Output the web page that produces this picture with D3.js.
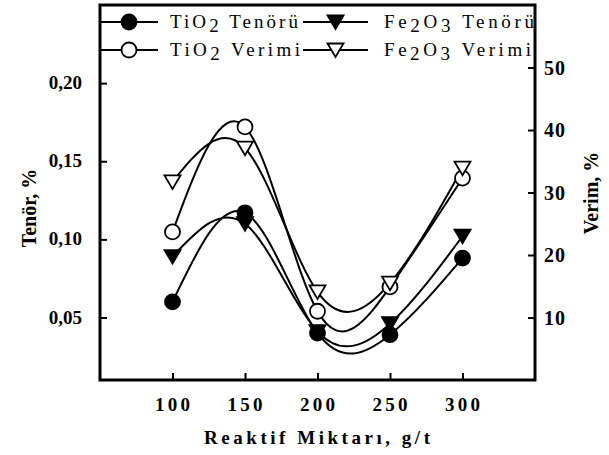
<!DOCTYPE html>
<html>
<head>
<meta charset="utf-8">
<script src="https://cdn.jsdelivr.net/npm/d3@7"></script>
<style>
  html, body { margin: 0; padding: 0; background: #fff; }
  svg { display: block; }
  text { font-family: "Liberation Serif", "Times New Roman", serif; fill: #000; }
</style>
</head>
<body>
<svg id="chart" width="609" height="455"></svg>
<script>
// Reagent dosage (g/t)
const dosages = [100, 150, 200, 250, 300];
// Grade (%), left axis
const tio2Grade = [0.060, 0.117, 0.040, 0.039, 0.088];
const fe2o3Grade = [0.089, 0.110, 0.041, 0.046, 0.102];
// Recovery (%), right axis
const tio2Recovery = [23.7, 40.5, 11.0, 14.9, 32.3];
const fe2o3Recovery = [31.7, 37.1, 14.1, 15.5, 33.9];

const xTicks = [100, 150, 200, 250, 300];
const gradeTicks = [0.05, 0.10, 0.15, 0.20];
const recoveryTicks = [10, 20, 30, 40, 50];

const svg = d3.select("#chart");
const m = { left: 100, right: 535, top: 5, bottom: 380 };

const x = d3.scaleLinear().domain([50, 350]).range([m.left, m.right]);
const yL = d3.scaleLinear().domain([0.01, 0.25]).range([m.bottom, m.top]);
const yR = d3.scaleLinear().domain([0, 60]).range([m.bottom, m.top]);

const series = [
  { label: ["TiO", "2", " Tenörü"], values: tio2Grade, scale: yL, shape: "circle", fill: "#000" },
  { label: ["Fe", "2", "O", "3", " Tenörü"], values: fe2o3Grade, scale: yL, shape: "tri", fill: "#000" },
  { label: ["TiO", "2", " Verimi"], values: tio2Recovery, scale: yR, shape: "circle", fill: "#fff" },
  { label: ["Fe", "2", "O", "3", " Verimi"], values: fe2o3Recovery, scale: yR, shape: "tri", fill: "#fff" }
];

const triPath = "M-8,-6.5L8,-6.5L0,7Z";

function marker(g, s) {
  if (s.shape === "circle") {
    g.append("circle").attr("r", 7.5).attr("fill", s.fill).attr("stroke", "#000").attr("stroke-width", 1.8);
  } else {
    g.append("path").attr("d", triPath).attr("fill", s.fill).attr("stroke", "#000").attr("stroke-width", 1.8);
  }
}

// Curves
const plot = svg.append("g");
series.forEach(s => {
  const line = d3.line()
    .x((d, i) => x(dosages[i]))
    .y(d => s.scale(d))
    .curve(d3.curveNatural);
  plot.append("path")
    .attr("d", line(s.values))
    .attr("fill", "none")
    .attr("stroke", "#000")
    .attr("stroke-width", 2);
});
series.forEach(s => {
  s.values.forEach((v, i) => {
    const g = plot.append("g").attr("transform", `translate(${x(dosages[i])},${s.scale(v)})`);
    marker(g, s);
  });
});

// Axes (ticks pointing inward)
const tickStyle = g => {
  g.select(".domain").remove();
  g.selectAll(".tick line").attr("stroke", "#000").attr("stroke-width", 2);
  g.selectAll(".tick text").remove();
};
svg.append("g").attr("transform", `translate(0,${m.bottom})`)
  .call(d3.axisTop(x).tickValues(xTicks).tickSize(7)).call(tickStyle);
svg.append("g").attr("transform", `translate(${m.left},0)`)
  .call(d3.axisRight(yL).tickValues(gradeTicks).tickSize(7)).call(tickStyle);
svg.append("g").attr("transform", `translate(${m.right},0)`)
  .call(d3.axisLeft(yR).tickValues(recoveryTicks).tickSize(7)).call(tickStyle);

// Frame
svg.append("rect")
  .attr("x", m.left).attr("y", m.top)
  .attr("width", m.right - m.left).attr("height", m.bottom - m.top)
  .attr("fill", "none").attr("stroke", "#000").attr("stroke-width", 3);

// Tick labels
svg.append("g").selectAll("text").data(xTicks).join("text")
  .attr("x", d => x(d)).attr("y", 411)
  .attr("text-anchor", "middle")
  .attr("font-size", 19).attr("font-weight", "bold")
  .attr("textLength", 35).attr("lengthAdjust", "spacing")
  .text(d => d);

svg.append("g").selectAll("text").data(gradeTicks).join("text")
  .attr("x", 82).attr("y", d => yL(d) + 6)
  .attr("text-anchor", "end")
  .attr("font-size", 19).attr("font-weight", "bold")
  .text(d => d3.format(".2f")(d).replace(".", ","));

svg.append("g").selectAll("text").data(recoveryTicks).join("text")
  .attr("x", 544).attr("y", d => yR(d) + 7)
  .attr("font-size", 20).attr("font-weight", "bold")
  .attr("letter-spacing", 1)
  .text(d => d);

// Axis titles
svg.append("text")
  .attr("transform", "translate(36,208) rotate(-90)")
  .attr("text-anchor", "middle")
  .attr("font-size", 20).attr("font-weight", "bold")
  .text("Tenör, %");

svg.append("text")
  .attr("transform", "translate(598,193) rotate(-90)")
  .attr("text-anchor", "middle")
  .attr("font-size", 20).attr("font-weight", "bold")
  .text("Verim, %");

svg.append("text")
  .attr("x", 317).attr("y", 444)
  .attr("text-anchor", "middle")
  .attr("font-size", 19).attr("font-weight", "bold")
  .attr("textLength", 226).attr("lengthAdjust", "spacing")
  .text("Reaktif Miktarı, g/t");

// Legend: two rows, two columns
const legendPos = [
  { x0: 100, x1: 158, tx: 170, y: 22, w: 128 },
  { x0: 303, x1: 368, tx: 384, y: 22, w: 150 },
  { x0: 100, x1: 158, tx: 170, y: 50, w: 130 },
  { x0: 303, x1: 368, tx: 384, y: 50, w: 147 }
];
series.forEach((s, i) => {
  const p = legendPos[i];
  const g = svg.append("g");
  g.append("line")
    .attr("x1", p.x0).attr("x2", p.x1).attr("y1", p.y).attr("y2", p.y)
    .attr("stroke", "#000").attr("stroke-width", 2);
  const mg = g.append("g").attr("transform", `translate(${(p.x0 + p.x1) / 2},${p.y})`);
  marker(mg, s);
  const t = g.append("text")
    .attr("x", p.tx).attr("y", p.y + 6)
    .attr("font-size", 19)
    .attr("textLength", p.w).attr("lengthAdjust", "spacing");
  let low = false;
  s.label.forEach(part => {
    const isDigit = /^\d$/.test(part);
    const shift = isDigit && !low ? 4 : (!isDigit && low ? -4 : 0);
    t.append("tspan").attr("dy", shift).text(part);
    low = isDigit;
  });
});
</script>
</body>
</html>
